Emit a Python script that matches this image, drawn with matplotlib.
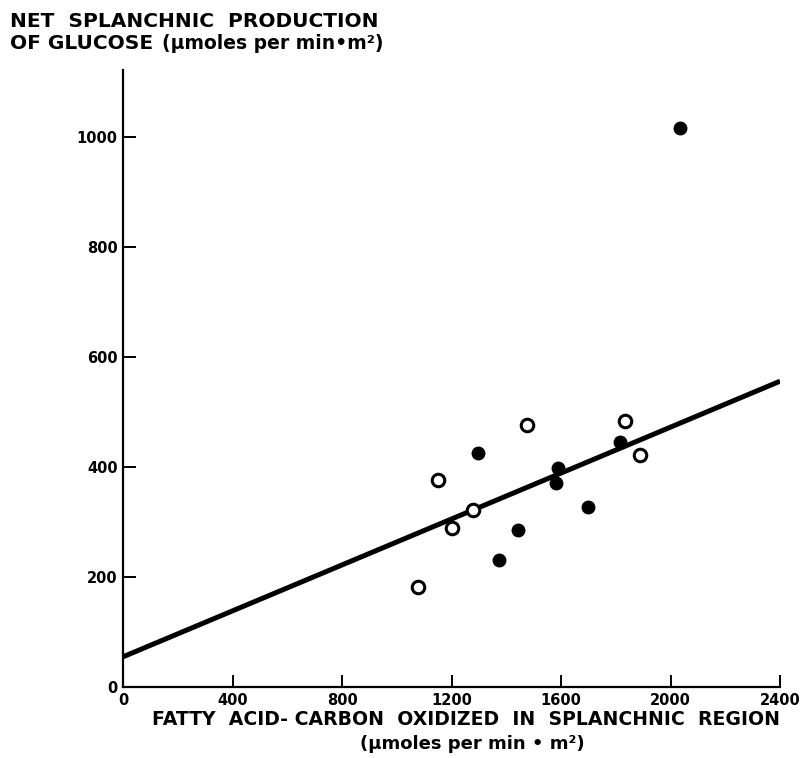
import matplotlib
matplotlib.use("Agg")
import matplotlib.pyplot as plt
import numpy as np

# filled circles
filled_x = [2034, 1297, 1589, 1581, 1698, 1443, 1373, 1815]
filled_y = [1016, 425, 398, 371, 327, 285, 231, 445]
# open circles
open_x = [1077, 1150, 1202, 1278, 1475, 1833, 1888]
open_y = [182, 376, 289, 322, 476, 484, 422]
# regression line
line_x = [0, 2400]
line_y = [55, 556]

xticks = [0, 400, 800, 1200, 1600, 2000, 2400]
yticks = [0, 200, 400, 600, 800, 1000]

fig = plt.figure(figsize=(8, 7.58), dpi=100)
ax = fig.add_axes([0.154, 0.0937, 0.821, 0.814])

ax.plot(line_x, line_y, color="black", lw=3.6, solid_capstyle="butt", zorder=2)
ax.plot(filled_x, filled_y, "o", color="black", ms=9, zorder=3)
ax.plot(open_x, open_y, "o", mfc="white", mec="black", mew=2.2, ms=9, zorder=3)

ax.set_xlim(0, 2400)
ax.set_ylim(0, 1122)
ax.set_xticks(xticks)
ax.set_yticks(yticks)
for s in ["top", "right"]:
    ax.spines[s].set_visible(False)
for s in ["left", "bottom"]:
    ax.spines[s].set_linewidth(1.6)
ax.tick_params(direction="in", length=9, width=1.4, labelsize=10.5, pad=4)
for lab in ax.get_xticklabels() + ax.get_yticklabels():
    lab.set_fontweight("bold")

fig.text(0.0125, 0.964, "NET  SPLANCHNIC  PRODUCTION", fontsize=14.5,
         fontweight="bold", va="baseline", ha="left")
fig.text(0.0125, 0.936, "OF GLUCOSE", fontsize=14.5,
         fontweight="bold", va="baseline", ha="left")
fig.text(0.203, 0.936, "(\u03bcmoles per min\u2022m\u00b2)", fontsize=13.5,
         fontweight="bold", va="baseline", ha="left")

fig.text(0.5825, 0.0435, "FATTY  ACID- CARBON  OXIDIZED  IN  SPLANCHNIC  REGION",
         fontsize=13.6, fontweight="bold", ha="center", va="baseline")
fig.text(0.59, 0.012, "(\u03bcmoles per min \u2022 m\u00b2)", fontsize=13,
         fontweight="bold", ha="center", va="baseline")

fig.savefig("out.png", dpi=100)
